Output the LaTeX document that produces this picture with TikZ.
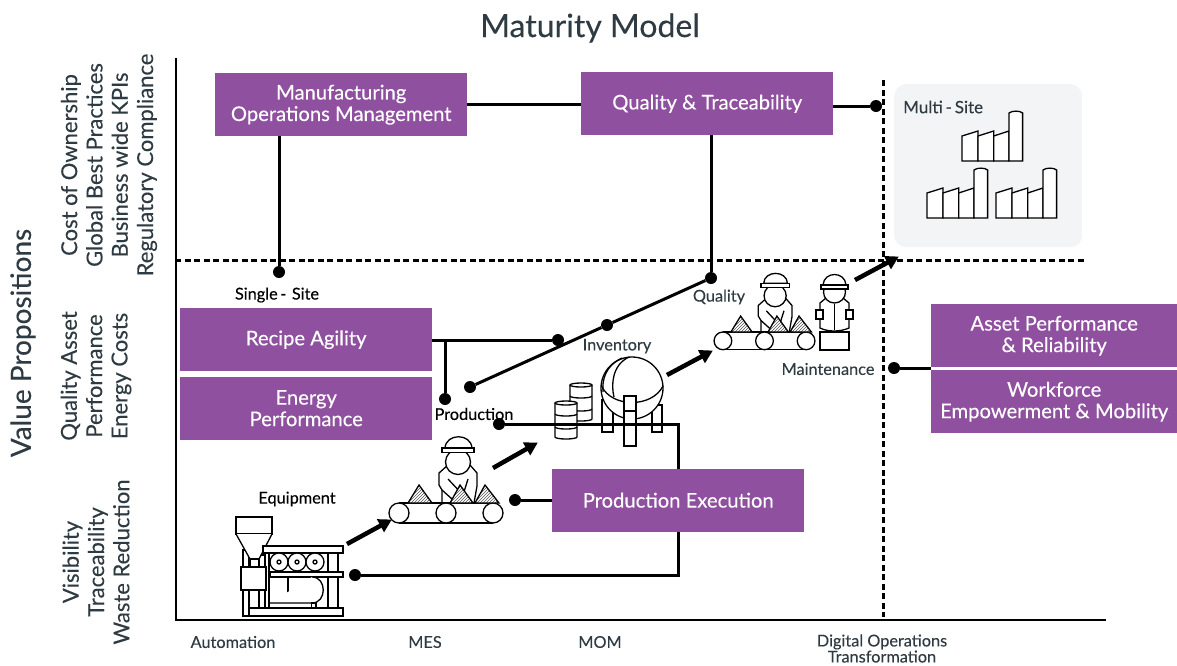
\documentclass[tikz,border=0pt]{standalone}
\usepackage{fontspec}
\setmainfont{Lato}[FakeBold=0.2]
\usetikzlibrary{arrows.meta,patterns,calc}
\definecolor{boxpurple}{HTML}{8F519F}
\definecolor{inkgrey}{HTML}{2F3B43}
\definecolor{panelgrey}{HTML}{F3F4F6}
\tikzset{
 x=1pt,y=-1pt,
 purplebox/.style={fill=boxpurple,text=white,minimum width=252pt,minimum height=63pt,inner sep=0pt,align=center,font=\fontsize{20.2}{21.5}\selectfont,anchor=north west},
 dotn/.style={circle,fill=black,inner sep=0pt,minimum size=12pt},
 link/.style={line width=3pt,black},
 bigarrow/.style={line width=4.5pt,black,-{Triangle[length=13pt,width=14pt]},shorten >=-1pt},
 dashline/.style={line width=3pt,black,dash pattern=on 6pt off 3.5pt},
 axisline/.style={line width=2pt,black},
 vlabel/.style={rotate=90,align=center,font=\fontsize{22}{25.3}\selectfont,text=inkgrey},
 smalllabel/.style={font=\fontsize{16.3}{17}\selectfont,text=inkgrey},
 icon/.style={line width=1.3pt,black,fill=white},
 iconl/.style={line width=1.3pt,black},
 conveyorpic/.pic={
  \draw[icon] (-47,0) -- (47,0) (-47,20) -- (47,20);
  \foreach \a in {-47,0,47} \draw[icon] (\a,10) circle (10);
 },
 triopic/.pic={
  \foreach \a/\b/\c in {-38/-27/-14,4/14/27,29/39/53}{
   \fill[white] (\a,0) -- (\b,-18) -- (\c,0) -- cycle;
   \fill[pattern=north east lines,pattern color=black!65] (\a,0) -- (\b,-18) -- (\c,0) -- cycle;
   \draw[iconl] (\a,0) -- (\b,-18) -- (\c,0) -- cycle;}
 },
 workerpic/.pic={
  \draw[icon] (-4,0) -- (-4,-13) -- (-7,-18) -- (-7,-30) -- (2,-38) -- (24,-38) -- (31,-30) -- (31,-17) -- (28,0) -- cycle;
  \draw[iconl] (2,-24) -- (17,-8) (-4,-13) -- (6,-4) (22,-24) -- (17,-8);
  \draw[icon] (12,-41) circle (12.5);
  \draw[icon] (-1,-55) .. controls (0,-70) and (25,-70) .. (26,-55) -- cycle;
  \draw[icon] (-4,-55) rectangle (28,-50.5);
 },
 factorypic/.pic={
  \draw[icon] (0,0) -- (0,-25) -- (16,-30) -- (16,0) -- cycle;
  \draw[icon] (16,0) -- (16,-25) -- (31.7,-30) -- (31.7,0) -- cycle;
  \draw[icon] (31.7,0) -- (31.7,-25) -- (47,-30) -- (47,0) -- cycle;
  \draw[icon] (47,0) -- (47,-48) .. controls (50,-50.5) and (58,-50.5) .. (60.6,-48) -- (60.6,0) -- cycle;
 },
 barrelpic/.pic={
  \draw[icon] (-11,0) -- (-11,34) arc[start angle=180,end angle=360,x radius=11,y radius=-2] -- (11,0);
  \draw[icon] (0,0) ellipse (11 and 2);
  \draw[iconl] (-11,11) arc[start angle=180,end angle=360,x radius=11,y radius=-2];
  \draw[iconl] (-11,24) arc[start angle=180,end angle=360,x radius=11,y radius=-2];
 },
}
\begin{document}
\begin{tikzpicture}
\useasboundingbox (0,0) rectangle (1177,665);
\node[font=\fontsize{32}{34}\selectfont,text=inkgrey] (title) at (590,28) {Maturity Model};
% multi-site panel
\node[fill=panelgrey,rounded corners=12pt,minimum width=188pt,minimum height=163pt,inner sep=0pt,anchor=north west] (panel) at (894,84) {};
\node[smalllabel,font=\fontsize{17}{18}\selectfont,anchor=west,inner sep=0pt] (multi) at (903,107) {Multi\,-\,Site};
\pic at (962,161) {factorypic};
\pic at (927,218) {factorypic};
\pic at (996,218) {factorypic};
% axes and dashed lines
\coordinate (ax0) at (176,620); \coordinate (axt) at (176,58); \coordinate (axr) at (1106,620);
\draw[axisline] (axt) -- (ax0) -- (axr);
\coordinate (dh0) at (175,260); \coordinate (dh1) at (1085,260);
\coordinate (dv0) at (883,80); \coordinate (dv1) at (883,617);
\draw[dashline] (dh0) -- (dh1);
\draw[dashline] (dv0) -- (dv1);
% side labels
\node[rotate=90,font=\fontsize{28}{30}\selectfont,text=inkgrey] (vp) at (23,343) {Value Propositions};
\node[vlabel] (v1) at (109,165) {Cost of Ownership\\Global Best Practices\\Business wide KPIs\\Regulatory Compliance};
\node[vlabel] (v2) at (96,376) {Quality Asset\\Performance\\Energy Costs};
\node[vlabel] (v3) at (96,562) {Visibility\\Traceability\\Waste Reduction};
% boxes
\node[purplebox] (mom) at (215,73) {Manufacturing\\Operations Management};
\node[purplebox] (qt) at (581,72) {Quality \& Traceability};
\node[purplebox] (recipe) at (180,308) {Recipe Agility};
\node[purplebox] (energy) at (180,376.5) {Energy\\Performance};
\node[purplebox] (pe) at (552,468.5) {Production Execution};
\node[purplebox,minimum width=246pt] (asset) at (931,304) {Asset Performance\\\& Reliability};
\node[purplebox,minimum width=246pt] (work) at (931,370) {Workforce\\Empowerment \& Mobility};
% dots
\node[dotn] (dq) at (876,106) {};
\node[dotn] (ds) at (279,272) {};
\node[dotn] (dq2) at (711,278) {};
\node[dotn] (di) at (607,325) {};
\node[dotn] (dp) at (470,387) {};
\node[dotn] (dr) at (558,340) {};
\node[dotn] (dr2) at (445,399) {};
\node[dotn] (dpe) at (515,500) {};
\node[dotn] (dinv) at (499,424) {};
\node[dotn] (deq) at (355,575) {};
\node[dotn] (dm) at (894,368) {};
% icons: inventory
\draw[icon] (602,400) rectangle (613,432);
\draw[icon] (652,405) rectangle (662,432);
\draw[icon] (632,388) circle (31);
\draw[iconl] (601.5,386) .. controls (612,408) and (652,408) .. (663,386);
\draw[iconl] (629,357) .. controls (612,365) and (611,385) .. (614,397);
\draw[iconl] (622,358) .. controls (605,366) and (602,380) .. (603,392);
\draw[icon] (624,396) rectangle (636,446);
\draw[iconl] (624,411) -- (636,411);
\pic at (581,385) {barrelpic};
\pic at (566,403) {barrelpic};
% connectors
\draw[link] (mom.east |- 0,104) -- (qt.west |- 0,104);
\draw[link] (qt.east |- dq) -- (dq);
\draw[link] (mom.south -| ds) -- (ds);
\draw[link] (qt.south -| dq2) -- (dq2);
\draw[link] (dp) -- (di) -- (dq2);
\draw[link] (recipe.east |- dr) -- (dr);
\draw[link] (recipe.east -| dr2) -- (dr2);
\draw[link] (pe.west |- dpe) -- (dpe);
\coordinate (pt) at (678,424); \coordinate (pb) at (678,575);
\draw[link] (pe.north -| pt) -- (pt) -- (dinv);
\draw[link] (pe.south -| pb) -- (pb) -- (deq);
\draw[link] (asset.west |- dm) -- (dm);
% equipment icon
\draw[icon] (243,550) rectangle (249,616);
\draw[icon] (259,555) rectangle (265,608);
\draw[icon] (269,553) rectangle (328,608);
\draw[icon] (328,553) rectangle (338,608);
\draw[icon] (236,517) rectangle (272,534);
\draw[icon] (236,534) -- (250,559) -- (259,559) -- (272,534);
\draw[icon] (250,559) rectangle (259,567);
\draw[icon] (263,546) rectangle (343,553);
\foreach \a in {279,297,315}{\draw[icon] (\a,562) circle (9); \draw[icon] (\a,562) circle (2);}
\draw[icon] (270,572) rectangle (343,577);
\draw[iconl] (288,577) -- (288,603);
\draw[icon] (312,577) .. controls (327,577) and (327,603) .. (312,603) -- (270,603);
\draw[icon] (311.5,603) rectangle (316,608);
\draw[icon] (249,608) rectangle (343,616);
\draw[icon] (241,567) rectangle (266,590);
% conveyors and workers
\pic at (446,503) {workerpic};
\pic at (446,503) {conveyorpic};
\pic at (446,503) {triopic};
\pic[scale=.885] at (764.5,332) {workerpic};
\pic[scale=.885] at (764.5,332) {conveyorpic};
\pic[scale=.885] at (764.5,332) {triopic};
% reader
\draw[icon] (820,332) rectangle (849,350);
\draw[icon] (820,328) -- (820,303) -- (826,298) -- (843,298) -- (849,303) -- (849,328) .. controls (840,332) and (828,332) .. (820,328) -- cycle;
\draw[iconl] (834.5,304) -- (834.5,330);
\draw[icon] (816,310) rectangle (823,319);
\draw[icon] (846,310) rectangle (853,319);
\draw[icon] (834.5,292) circle (11);
\draw[icon] (823,285) .. controls (824,271) and (845,271) .. (846,285) -- cycle;
\draw[icon] (821,285) rectangle (848,289);
% big arrows
\coordinate (a1s) at (347,544); \coordinate (a1e) at (391,520);
\coordinate (a2s) at (493,468); \coordinate (a2e) at (537,443);
\coordinate (a3s) at (667,375); \coordinate (a3e) at (712,351);
\coordinate (a4s) at (855,280); \coordinate (a4e) at (898,257);
\draw[bigarrow] (a1s) -- (a1e);
\draw[bigarrow] (a2s) -- (a2e);
\draw[bigarrow] (a3s) -- (a3e);
\draw[bigarrow] (a4s) -- (a4e);
% labels
\node[smalllabel,text=black] (lsingle) at (277,295) {Single\,-\,\,Site};
\node[smalllabel,text=black] (lequip) at (297,499) {Equipment};
\node[smalllabel,text=black] (lprod) at (474,414) {Production};
\node[smalllabel] (linv) at (617,346) {Inventory};
\node[smalllabel] (lqual) at (719,297) {Quality};
\node[smalllabel] (lmaint) at (828,369) {Maintenance};
\node[smalllabel] (xa) at (233,642) {Automation};
\node[smalllabel] (xm) at (425,642) {MES};
\node[smalllabel] (xo) at (600,642) {MOM};
\node[smalllabel,font=\fontsize{16.3}{16}\selectfont,align=center,inner sep=0pt] (xd) at (882,648.5) {Digital Operations\\Transformation};
\end{tikzpicture}
\end{document}
